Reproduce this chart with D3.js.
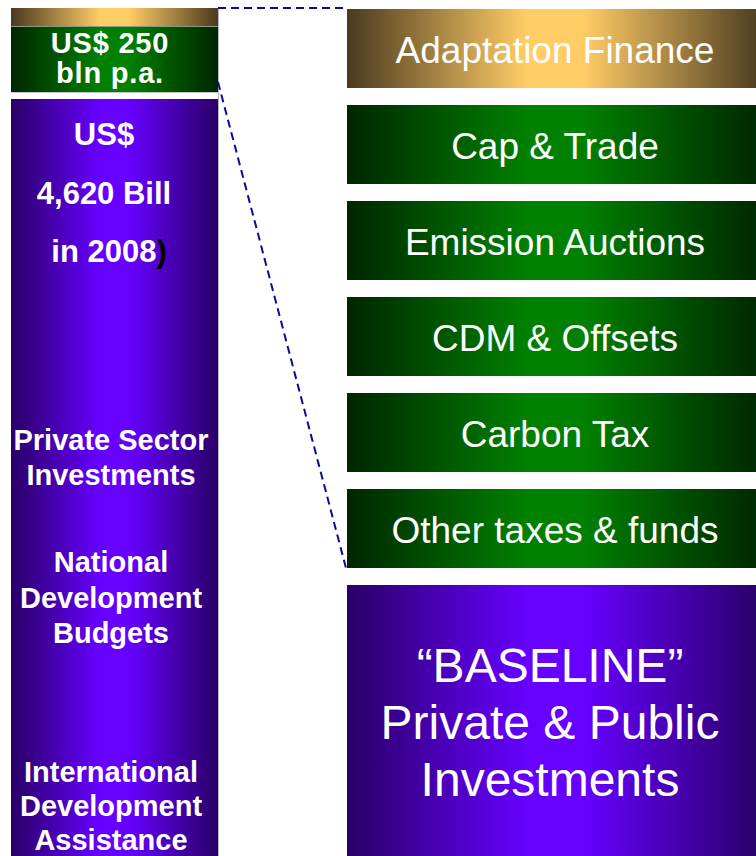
<!DOCTYPE html>
<html>
<head>
<meta charset="utf-8">
<script src="https://cdn.jsdelivr.net/npm/d3@7"></script>
<style>
  body { margin: 0; background: #fff; }
  svg { display: block; font-family: "Liberation Sans", Arial, sans-serif; }
</style>
</head>
<body>
<svg id="chart" width="756" height="856"></svg>
<script>
// right column: finance sources
let sources = ["Adaptation Finance", "Cap & Trade", "Emission Auctions", "CDM & Offsets", "Carbon Tax", "Other taxes & funds"];
let sourceKind = ["gold", "green", "green", "green", "green", "green"];
let baselineLines = ["\u201cBASELINE\u201d", "Private & Public", "Investments"];

// left column: totals
let topLines = ["US$ 250", "bln p.a."];
let totalLines = ["US$", "4,620 Bill", "in 2008"];
let sectorGroups = [
  ["Private Sector", "Investments"],
  ["National", "Development", "Budgets"],
  ["International", "Development", "Assistance"]
];

let svg = d3.select('#chart');
let W = 756, H = 856;

// gradients: dark edges, bright middle
let palette = {
  gold: ['#4a3a1f', '#ffcc66'],
  green: ['#002600', '#008000'],
  purple: ['#290066', '#6600ff']
};
let defs = svg.append('defs');
Object.keys(palette).forEach(k => {
  let g = defs.append('linearGradient')
    .attr('id', 'grad-' + k)
    .attr('x1', '0%').attr('x2', '100%').attr('y1', '0%').attr('y2', '0%');
  g.append('stop').attr('offset', '0%').attr('stop-color', palette[k][0]);
  g.append('stop').attr('offset', '43%').attr('stop-color', palette[k][1]);
  g.append('stop').attr('offset', '57%').attr('stop-color', palette[k][1]);
  g.append('stop').attr('offset', '100%').attr('stop-color', palette[k][0]);
});

// right column layout
let rx0 = 347, rx1 = 763;
let y = d3.scaleBand()
  .domain(sources)
  .range([9, 568])
  .paddingInner(17 / 96);

let boxes = svg.selectAll('g.source')
  .data(sources)
  .enter()
  .append('g')
  .attr('class', 'source');

boxes.append('rect')
  .attr('x', rx0)
  .attr('y', d => y(d))
  .attr('width', rx1 - rx0)
  .attr('height', y.bandwidth())
  .style('fill', (d, i) => `url(#grad-${sourceKind[i]})`);

boxes.append('text')
  .attr('x', 555)
  .attr('y', d => y(d) + y.bandwidth() / 2 + 14)
  .attr('text-anchor', 'middle')
  .style('fill', 'white')
  .style('font-size', '37px')
  .text(d => d);

// baseline box
let baseTop = y(sources[sources.length - 1]) + y.step();
svg.append('rect')
  .attr('x', rx0)
  .attr('y', baseTop)
  .attr('width', rx1 - rx0)
  .attr('height', H - baseTop + 5)
  .style('fill', 'url(#grad-purple)');

svg.selectAll('text.baseline')
  .data(baselineLines)
  .enter()
  .append('text')
  .attr('class', 'baseline')
  .attr('x', 550)
  .attr('y', (d, i) => 682 + i * 57)
  .attr('text-anchor', 'middle')
  .style('fill', 'white')
  .style('font-size', '48px')
  .text(d => d);

// left column
let lx0 = 11, lx1 = 218;
svg.append('rect')
  .attr('x', lx0).attr('y', 8)
  .attr('width', lx1 - lx0).attr('height', 18)
  .style('fill', 'url(#grad-gold)');
svg.append('rect')
  .attr('x', lx0).attr('y', 26)
  .attr('width', lx1 - lx0).attr('height', 66)
  .style('fill', 'url(#grad-green)');
svg.append('rect')
  .attr('x', lx0).attr('y', 99)
  .attr('width', lx1 - lx0).attr('height', H - 99 + 5)
  .style('fill', 'url(#grad-purple)');

svg.append('line')
  .attr('x1', lx0).attr('x2', lx1).attr('y1', 26.5).attr('y2', 26.5)
  .style('stroke', '#8a9a80').style('stroke-width', 1);
svg.append('line')
  .attr('x1', lx1 + 0.5).attr('x2', lx1 + 0.5).attr('y1', 8).attr('y2', H)
  .style('stroke', '#b8b8c4').style('stroke-width', 1);
svg.append('line')
  .attr('x1', lx0).attr('x2', lx1).attr('y1', 92.5).attr('y2', 92.5)
  .style('stroke', '#c8c8c8').style('stroke-width', 1);

let boldText = function(sel) {
  sel.attr('text-anchor', 'middle')
    .style('fill', 'white')
    .style('font-weight', 'bold');
};

svg.selectAll('text.top')
  .data(topLines)
  .enter()
  .append('text')
  .attr('class', 'top')
  .attr('x', 110)
  .attr('y', (d, i) => 53 + i * 29.5)
  .style('font-size', '29px')
  .style('letter-spacing', '0.8px')
  .call(boldText)
  .text(d => d);

let totals = svg.selectAll('text.total')
  .data(totalLines)
  .enter()
  .append('text')
  .attr('class', 'total')
  .attr('x', (d, i) => i == 2 ? 109 : 104)
  .attr('y', (d, i) => 145 + i * 58.5)
  .style('font-size', '31px')
  .call(boldText)
  .text(d => d);
totals.filter((d, i) => i == 2)
  .append('tspan')
  .style('fill', 'black')
  .text(')');

let groupTop = [450, 572, 782];
let groupStep = [35, 35.5, 34];
sectorGroups.forEach((lines, gi) => {
  svg.selectAll('text.sector' + gi)
    .data(lines)
    .enter()
    .append('text')
    .attr('class', 'sector' + gi)
    .attr('x', 111)
    .attr('y', (d, i) => groupTop[gi] + i * groupStep[gi])
    .style('font-size', '29px')
    .call(boldText)
    .text(d => d);
});

// dashed connector lines
let link = d3.line();
svg.append('path')
  .attr('d', link([[lx1, 8], [rx0, 8]]))
  .style('fill', 'none')
  .style('stroke', '#0a0a99')
  .style('stroke-width', 2)
  .style('stroke-dasharray', '8,5');
svg.append('path')
  .attr('d', link([[lx1, 82], [rx0 - 1, 568]]))
  .style('fill', 'none')
  .style('stroke', '#0a0a99')
  .style('stroke-width', 2)
  .style('stroke-dasharray', '8,5');
</script>
</body>
</html>
